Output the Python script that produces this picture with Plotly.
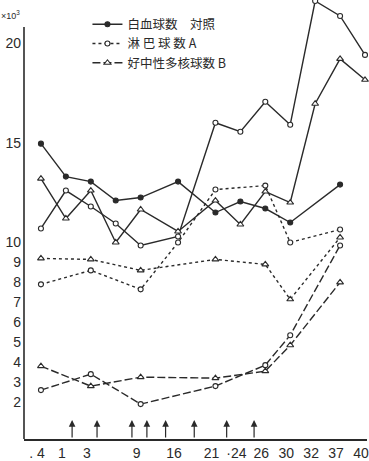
import plotly.graph_objects as go

# x positions: observation days (labels) and their slot on the drawn (non-linear) day scale
day_labels = [". 4", "1", "3", " ", "9", "16", "21", "·24", "26", "30", "32", "37", "40"]
day_slot = [0, 2, 4, 6, 8, 11, 14, 16, 18, 20, 22, 24, 26]

# 白血球数 (x10^3)
wbc_ctrl_idx = [0, 1, 2, 3, 4, 5, 6, 7, 8, 9, 11]
wbc_ctrl = [14.95, 13.3, 13.05, 12.1, 12.25, 13.05, 11.5, 12.05, 11.7, 11.0, 12.9]
wbc_a_idx = list(range(13))
wbc_a = [10.7, 12.6, 11.8, 10.95, 9.85, 10.3, 16.0, 15.55, 17.05, 15.9, 22.1, 21.35, 19.4]
wbc_b_idx = list(range(13))
wbc_b = [13.2, 11.2, 12.6, 10.0, 11.65, 10.55, 12.1, 10.9, 12.55, 12.0, 16.95, 19.2, 18.15]

# 淋巴球数
lym_a_idx = [0, 2, 4, 5, 6, 8, 9, 11]
lym_a = [7.9, 8.6, 7.65, 10.0, 12.65, 12.85, 10.0, 10.65]
lym_b_idx = [0, 2, 4, 6, 8, 9, 11]
lym_b = [9.2, 9.15, 8.6, 9.15, 8.9, 7.15, 10.25]

# 好中性多核球数
neu_a_idx = [0, 2, 4, 6, 8, 9, 11]
neu_a = [2.6, 3.4, 1.9, 2.8, 3.85, 5.35, 9.85]
neu_b_idx = [0, 2, 4, 6, 8, 9, 11]
neu_b = [3.8, 2.8, 3.25, 3.2, 3.55, 4.85, 8.0]

# injection arrows (slot positions)
arrow_slots = [2.5, 4.5, 7.3, 8.5, 10.0, 12.3, 14.9, 17.1]

y_tick_vals = [2, 3, 4, 5, 6, 7, 8, 9, 10, 15, 20]

INK = "#2a2a2a"
DASH = "8px,3px"


def xs(idx):
    return [day_slot[i] for i in idx]


fig = go.Figure()

def add(idx, vals, dash, symbol, name, showlegend, fill=False, size=5):
    fig.add_trace(go.Scatter(
        x=xs(idx), y=vals, mode="lines+markers", name=name, showlegend=showlegend,
        line=dict(color=INK, width=1.4, dash=dash),
        marker=dict(symbol=symbol, size=size,
                    color=INK if fill else "white",
                    line=dict(color=INK, width=1.1)),
        cliponaxis=False,
    ))

add(wbc_ctrl_idx, wbc_ctrl, "solid", "circle", "白血球数　対照", True, fill=True)
add(lym_a_idx, lym_a, "dot", "circle", "淋 巴 球 数 A", True)
add(neu_b_idx, neu_b, DASH, "triangle-up", "好中性多核球数 B", True, size=6)
add(wbc_a_idx, wbc_a, "solid", "circle", "wbc A", False)
add(wbc_b_idx, wbc_b, "solid", "triangle-up", "wbc B", False, size=6)
add(lym_b_idx, lym_b, "dot", "triangle-up", "lym B", False, size=6)
add(neu_a_idx, neu_a, DASH, "circle", "neu A", False)

annotations = []
for s in arrow_slots:
    annotations.append(dict(
        x=s, y=1.1, ax=s, ay=0.15, xref="x", yref="y", axref="x", ayref="y",
        text="", showarrow=True, arrowhead=2, arrowsize=1.1, arrowwidth=1.2,
        arrowcolor=INK,
    ))
annotations.append(dict(
    x=-0.005, y=0.965, xref="paper", yref="paper", xanchor="right", yanchor="middle",
    text="×10<sup>3</sup>", showarrow=False,
    font=dict(family="Liberation Sans", size=9, color=INK),
))

fig.update_layout(
    width=369, height=461,
    margin=dict(l=24, r=0, t=0, b=21),
    paper_bgcolor="white", plot_bgcolor="white",
    font=dict(family="Liberation Sans", color=INK),
    showlegend=True,
    legend=dict(
        x=0.185, y=0.978, xanchor="left", yanchor="top",
        bgcolor="rgba(0,0,0,0)", borderwidth=0,
        font=dict(family="Noto Sans CJK JP", size=12.5, color=INK),
        itemwidth=30, tracegroupgap=0,
    ),
    xaxis=dict(
        range=[-1.36, 26.16],
        tickmode="array", tickvals=day_slot, ticktext=day_labels,
        showgrid=False, zeroline=False, showline=True,
        linecolor=INK, linewidth=1.6, ticks="",
        tickfont=dict(family="Liberation Sans", size=14, color=INK),
        ticklabelshift=-4, ticklabelstandoff=0, ticklabeloverflow="allow",
    ),
    yaxis=dict(
        range=[0.15, 22.15],
        tickmode="array", tickvals=y_tick_vals,
        showgrid=False, zeroline=False, showline=False, ticks="",
        tickfont=dict(family="Liberation Sans", size=14, color=INK),
        ticklabelstandoff=2,
    ),
    shapes=[dict(type="line", xref="paper", yref="y", x0=0, x1=0, y0=0.15, y1=20.8,
                 line=dict(color=INK, width=1.6))],
    annotations=annotations,
)

fig.write_html("out.html")
